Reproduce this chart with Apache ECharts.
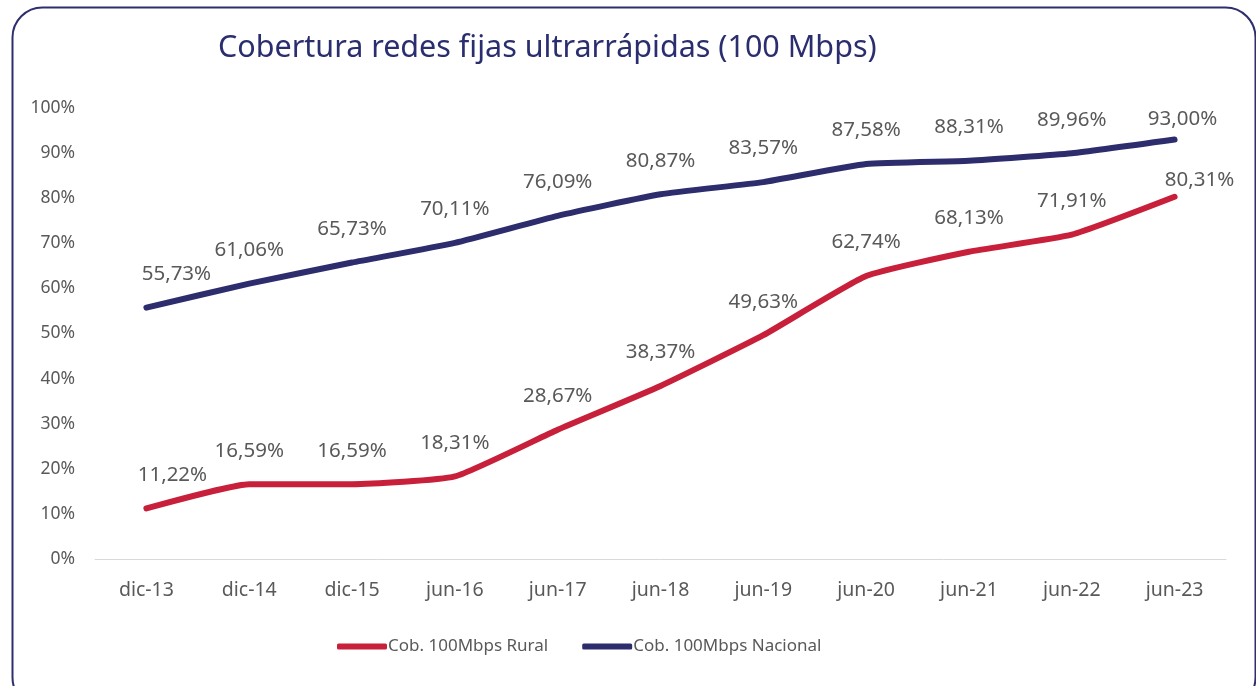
<!DOCTYPE html>
<html>
<head>
<meta charset="utf-8">
<script src="https://cdn.jsdelivr.net/npm/echarts@6/dist/echarts.min.js"></script>
<style>
html,body{margin:0;padding:0;background:#fff;}
#c{width:1256px;height:686px;}
</style>
</head>
<body>
<div id="c"></div>
<script>
const categories = ['dic-13','dic-14','dic-15','jun-16','jun-17','jun-18','jun-19','jun-20','jun-21','jun-22','jun-23'];
const rural = [11.22,16.59,16.59,18.31,28.67,38.37,49.63,62.74,68.13,71.91,80.31];
const nacional = [55.73,61.06,65.73,70.11,76.09,80.87,83.57,87.58,88.31,89.96,93.00];
const seriesNames = ['Cob. 100Mbps Rural','Cob. 100Mbps Nacional'];
const titleText = 'Cobertura redes fijas ultrarrápidas (100 Mbps)';

const FONT = 'Noto Sans';
const GRAY = '#595959';
const fmt = v => Number(v).toFixed(2).replace('.', ',') + '%';

const chart = echarts.init(document.getElementById('c'), null, {renderer:'canvas'});
const labelCfg = {
  show: true, position: 'top', distance: 22, opacity: 1,
  color: GRAY, fontFamily: FONT, fontSize: 20.5,
  formatter: p => fmt(p.value)
};
// Label placement tweaks (as in the original layout): first points nudged right,
// last points set beside the line end.
function withLabelTweaks(values, firstDx, lastOffset) {
  return values.map((v, i) => {
    if (i === 0) return {value: v, label: {offset: [firstDx, 0]}};
    if (i === values.length - 1) return {value: v, label: {offset: lastOffset}};
    return v;
  });
}
chart.setOption({
  backgroundColor: '#fff',
  animation: false,
  graphic: [{
    type: 'rect', left: 10, top: 5, z: -1,
    shape: {width: 1243, height: 700, r: 30},
    style: {fill: 'none', stroke: '#2e2e6e', lineWidth: 2}
  }],
  title: {
    text: titleText, left: 213, top: 28,
    textStyle: {color: '#2b2e6e', fontFamily: FONT, fontSize: 30.5, fontWeight: 'normal'}
  },
  legend: {
    bottom: 26, left: 332, itemGap: 34,
    itemWidth: 50, itemHeight: 6, icon: 'roundRect',
    textStyle: {color: GRAY, fontFamily: FONT, fontSize: 17, padding: [0,0,0,-4]},
    data: seriesNames
  },
  grid: {left: 95, right: 30, top: 108, bottom: 127, containLabel: false},
  xAxis: {
    type: 'category', data: categories, boundaryGap: true,
    axisLine: {lineStyle: {color: '#d9d9d9', width: 1}},
    axisTick: {show: false},
    axisLabel: {color: GRAY, fontFamily: FONT, fontSize: 19.5, margin: 21}
  },
  yAxis: {
    type: 'value', min: 0, max: 100, interval: 10,
    axisLine: {show: false}, axisTick: {show: false},
    splitLine: {show: false},
    axisLabel: {color: GRAY, fontFamily: FONT, fontSize: 17.5, margin: 20, formatter: v => v + '%'}
  },
  series: [
    {
      name: seriesNames[0], type: 'line', data: withLabelTweaks(rural, 26, [25, 17]), smooth: 0.15,
      symbol: 'circle', symbolSize: 2, showSymbol: true,
      itemStyle: {color: '#c8203a'},
      lineStyle: {width: 6, color: '#c8203a', cap: 'round', join: 'round'},
      label: labelCfg
    },
    {
      name: seriesNames[1], type: 'line', data: withLabelTweaks(nacional, 30, [8, 13]), smooth: 0.15,
      symbol: 'circle', symbolSize: 2, showSymbol: true,
      itemStyle: {color: '#2d2d6e'},
      lineStyle: {width: 6, color: '#2d2d6e', cap: 'round', join: 'round'},
      label: labelCfg
    }
  ]
});
</script>
</body>
</html>
